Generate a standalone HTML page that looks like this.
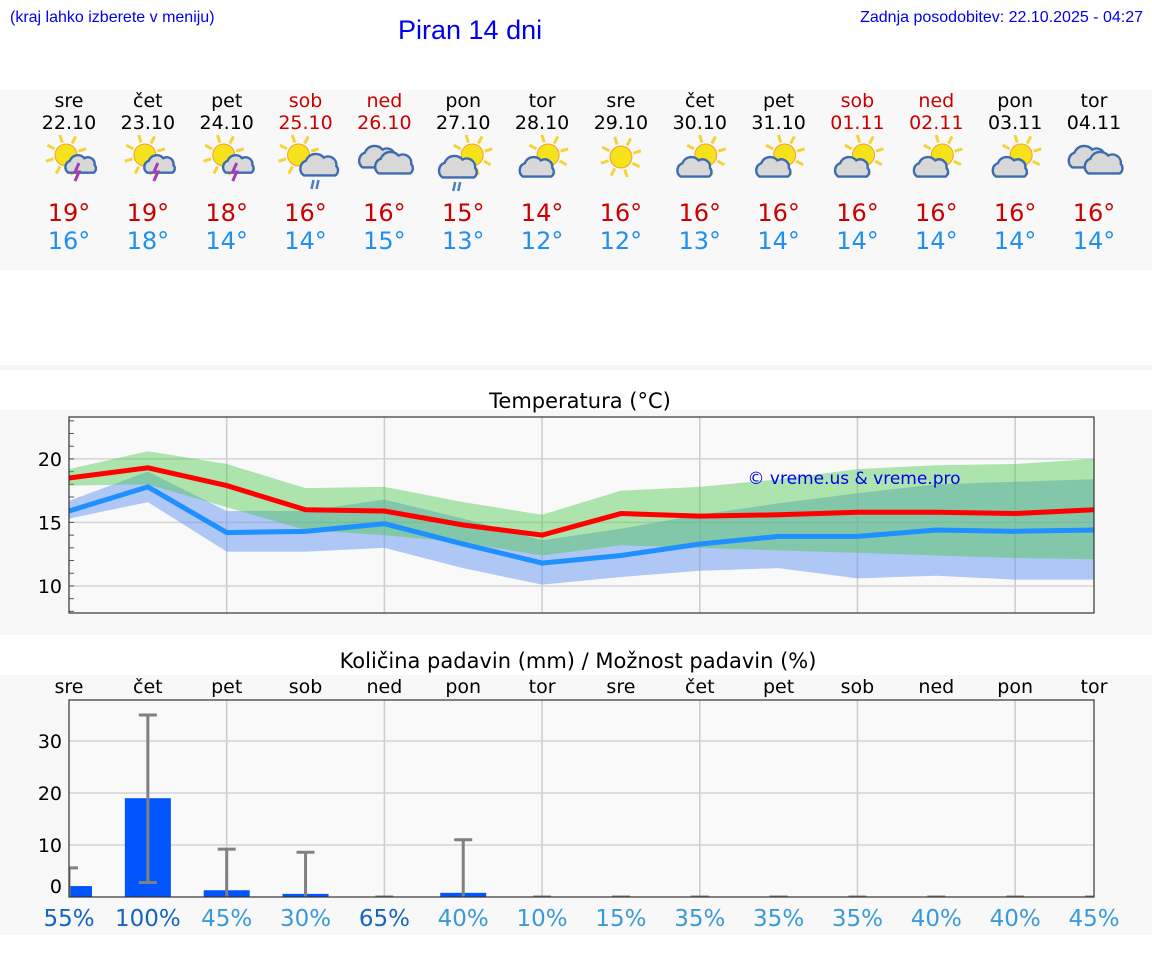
<!DOCTYPE html>
<html><head><meta charset="utf-8">
<style>
html,body{margin:0;padding:0;background:#fff;}
svg{display:block;font-family:"DejaVu Sans","Liberation Sans",sans-serif;}
.hdr{font-family:"Liberation Sans",sans-serif;}
</style></head>
<body>
<svg id="root" width="1152" height="975" viewBox="0 0 1152 975" xmlns="http://www.w3.org/2000/svg">
<text class="hdr" x="10" y="22" font-size="16" fill="#0000ee">(kraj lahko izberete v meniju)</text>
<text class="hdr" x="398" y="39" font-size="27" fill="#0000ee">Piran 14 dni</text>
<text class="hdr" x="1143" y="22" font-size="16" fill="#0000ee" text-anchor="end">Zadnja posodobitev: 22.10.2025 - 04:27</text>
<rect x="0" y="90" width="1152" height="180" fill="#f8f8f8"/>
<rect x="0" y="365" width="1152" height="5" fill="#f6f6f6"/>
<rect x="0" y="410" width="1152" height="225" fill="#f8f8f8"/>
<rect x="0" y="675" width="1152" height="260" fill="#f8f8f8"/>
<g id="days"></g>
<text x="580" y="408" font-size="21" text-anchor="middle" fill="#000">Temperatura (°C)</text>
<g id="temp"></g>
<text x="578" y="668" font-size="21" text-anchor="middle" fill="#000">Količina padavin (mm) / Možnost padavin (%)</text>
<g id="prec"></g>
</svg>
<script>
const dayNames=["sre","čet","pet","sob","ned","pon","tor","sre","čet","pet","sob","ned","pon","tor"];
const dates=["22.10","23.10","24.10","25.10","26.10","27.10","28.10","29.10","30.10","31.10","01.11","02.11","03.11","04.11"];
const weekend=[0,0,0,1,1,0,0,0,0,0,1,1,0,0];
const icons=["sunstorm","sunstorm","sunstorm","sunrain","cloudy","cloudrain","suncloud","sun","suncloud","suncloud","suncloud","suncloud","suncloud","cloudy"];
const maxDisp=[19,19,18,16,16,15,14,16,16,16,16,16,16,16];
const minDisp=[16,18,14,14,15,13,12,12,13,14,14,14,14,14];
const tMax=[18.5,19.3,17.9,16.0,15.9,14.8,14.0,15.7,15.5,15.6,15.8,15.8,15.7,16.0];
const tMin=[15.9,17.8,14.2,14.3,14.9,13.3,11.8,12.4,13.3,13.9,13.9,14.4,14.3,14.4];
const maxHi=[19.2,20.6,19.6,17.7,17.8,16.6,15.6,17.5,17.8,18.4,19.2,19.5,19.6,20.0];
const maxLo=[17.9,18.0,16.2,14.4,14.0,13.4,12.4,13.2,13.0,12.8,12.6,12.4,12.2,12.1];
const minHi=[16.7,19.0,15.9,15.9,16.8,15.3,13.6,14.5,15.6,16.5,17.3,18.0,18.2,18.4];
const minLo=[15.3,16.6,12.7,12.7,13.0,11.4,10.1,10.7,11.2,11.4,10.6,10.8,10.5,10.5];
const tempTicks=[10,15,20];
const precip=[2.1,19.0,1.3,0.6,0,0.8,0,0,0,0,0,0,0,0];
const precHi=[5.6,35,9.2,8.6,0,11,0,0,0,0,0,0,0,0];
const precLo=[0,2.8,0,0,0,0,0,0,0,0,0,0,0,0];
const chance=[55,100,45,30,65,40,10,15,35,35,35,40,40,45];
const precTicks=[0,10,20,30];

const NS="http://www.w3.org/2000/svg";
function mk(tag,attrs,parent,txt){const e=document.createElementNS(NS,tag);for(const k in attrs)e.setAttribute(k,attrs[k]);if(txt!==undefined)e.textContent=txt;parent.appendChild(e);return e;}
const X0=69,X1=1094;
const xs=i=>X0+i*(X1-X0)/13;

const dg=document.getElementById('days');
function sun(g,cx,cy,r){
  for(let a=0;a<8;a++){const t=a*Math.PI/4-0.3;mk('line',{x1:cx+Math.cos(t)*(r+2),y1:cy+Math.sin(t)*(r+2),x2:cx+Math.cos(t)*(r+10),y2:cy+Math.sin(t)*(r+10),stroke:'#f2d43a','stroke-width':3},g);}
  mk('circle',{cx,cy,r,fill:'#f5e21b',stroke:'#f0a030','stroke-width':1},g);
}
function cloud(g,cx,cy,s){
  mk('path',{d:`M${cx-15*s},${cy+9*s} a${8*s} ${8*s} 0 0 1 ${2*s},${-14*s} a${10*s} ${10*s} 0 0 1 ${17*s},${-3*s} a${8*s} ${8*s} 0 0 1 ${12*s},${8*s} a${6*s} ${6*s} 0 0 1 ${-1*s},${9*s} z`,fill:'#d8d8d8',stroke:'#3d6bb0','stroke-width':2.4},g);
}
icons.forEach((ic,i)=>{
  const x=xs(i);
  const c=weekend[i]?'#cc0000':'#000';
  const t1=mk('text',{x,y:107,'font-size':19,'text-anchor':'middle',fill:c},dg,dayNames[i]);
  
  
  const t2=mk('text',{x,y:129,'font-size':19,'text-anchor':'middle',fill:c},dg,dates[i]);
  
  
  const g=mk('g',{},dg);
  
  
  if(ic==='sunstorm'){sun(g,x-3,155,11);cloud(g,x+12,165,0.85);mk('path',{d:`M${x+10},163 l-4,9 h4 l-4,9`,stroke:'#a040b0','stroke-width':3,fill:'none'},g);}
  else if(ic==='sunrain'){sun(g,x-7,155,11);cloud(g,x+14,166,1.05);mk('path',{d:`M${x+8},180 l-2,9 M${x+13},180 l-2,9`,stroke:'#4a7ec0','stroke-width':2.5},g);}
  else if(ic==='cloudy'){cloud(g,x-6,158,1.05);cloud(g,x+10,164,1.05);}
  else if(ic==='cloudrain'){sun(g,x+9,155,11);cloud(g,x-5,168,1.05);mk('path',{d:`M${x-8},182 l-2,9 M${x-3},182 l-2,9`,stroke:'#4a7ec0','stroke-width':2.5},g);}
  else if(ic==='suncloud'){sun(g,x+6,155,11);cloud(g,x-5,168,0.95);}
  else {sun(g,x,157,11);}
  const a=mk('text',{x,y:221,'font-size':24,'text-anchor':'middle',fill:'#cc0000'},dg,maxDisp[i]+'°');
  
  
  const b=mk('text',{x,y:249,'font-size':24,'text-anchor':'middle',fill:'#2090f0'},dg,minDisp[i]+'°');
  
  
});

const tg=document.getElementById('temp');
const TY0=613,TY1=417,TMIN=7.87,TMAX=23.3;
const ty=v=>TY0-(v-TMIN)/(TMAX-TMIN)*(TY0-TY1);
mk('rect',{x:X0,y:TY1,width:X1-X0,height:TY0-TY1,fill:'#f9f9f9'},tg);
for(let i=2;i<14;i+=2)mk('line',{x1:xs(i),x2:xs(i),y1:TY1,y2:TY0,stroke:'#ccc','stroke-width':1.5},tg);
tempTicks.forEach(v=>{mk('line',{x1:X0,x2:X1,y1:ty(v),y2:ty(v),stroke:'#d4d4d4','stroke-width':1.5},tg);
  const l=mk('text',{x:62,y:ty(v)+7,'font-size':19,'text-anchor':'end',fill:'#000'},tg,String(v));
  
  });
for(let v=8;v<=23;v++)mk('line',{x1:X0,x2:X0+5,y1:ty(v),y2:ty(v),stroke:'#555',"stroke-width":1},tg);
function band(hi,lo,fill,name){
  let d='M'+hi.map((v,i)=>xs(i)+','+ty(v)).join(' L');
  d+=' L'+lo.map((v,i)=>xs(i)+','+ty(v)).reverse().join(' L')+' Z';
  const p=mk('path',{d,fill},tg);
  
  
}
band(minHi,minLo,'rgba(100,150,240,0.5)','min-temp-band');
band(maxHi,maxLo,'rgba(80,200,80,0.45)','max-temp-band');
function line(arr,col,name){
  const p=mk('polyline',{points:arr.map((v,i)=>xs(i)+','+ty(v)).join(' '),fill:'none',stroke:col,'stroke-width':5},tg);
  
  
}
line(tMin,'#1e90ff','min-temp-line');
line(tMax,'#ff0000','max-temp-line');
mk('rect',{x:X0,y:TY1,width:X1-X0,height:TY0-TY1,fill:'none',stroke:'#333','stroke-width':1.2},tg);
const wm=mk('text',{x:854,y:484,'font-size':17,'text-anchor':'middle',fill:'#0000ee'},tg,'© vreme.us & vreme.pro');



const pg=document.getElementById('prec');
const PY0=897,PY1=700,PMAX=(897-700)/5.2;
const py=v=>PY0-v/PMAX*(PY0-PY1);
mk('rect',{x:X0,y:PY1,width:X1-X0,height:PY0-PY1,fill:'#f9f9f9'},pg);
for(let i=2;i<14;i+=2)mk('line',{x1:xs(i),x2:xs(i),y1:PY1,y2:PY0,stroke:'#ccc','stroke-width':1.5},pg);
precTicks.forEach(v=>{if(v>0)mk('line',{x1:X0,x2:X1,y1:py(v),y2:py(v),stroke:'#d4d4d4','stroke-width':1.5},pg);
  const l=mk('text',{x:62,y:py(v)+(v===0?-4:7),'font-size':19,'text-anchor':'end',fill:'#000'},pg,String(v));
  
  });
dayNames.forEach((d,i)=>{const t=mk('text',{x:xs(i),y:693,'font-size':19,'text-anchor':'middle',fill:'#000'},pg,d);
  
  });
const clip=mk('clipPath',{id:'pc'},pg);mk('rect',{x:X0,y:PY1-20,width:X1-X0,height:PY0-PY1+20},clip);
const cg=mk('g',{'clip-path':'url(#pc)'},pg);
precip.forEach((v,i)=>{
  const x=xs(i);
  if(v>0){const r=mk('rect',{x:x-23,y:py(v),width:46,height:PY0-py(v),fill:'#0055ff'},cg);
    
    }
  const e=mk('g',{stroke:'#808080','stroke-width':3},cg);
  
  
  mk('line',{x1:x,x2:x,y1:py(precLo[i]),y2:py(precHi[i])},e);
  mk('line',{x1:x-9,x2:x+9,y1:py(precHi[i]),y2:py(precHi[i])},e);
  if(precLo[i]>0)mk('line',{x1:x-9,x2:x+9,y1:py(precLo[i]),y2:py(precLo[i])},e);
  const c=chance[i];
  const t=mk('text',{x,y:926,'font-size':23,'text-anchor':'middle',fill:(c>=55?'#1565c0':'#3a9ad9')},pg,c+'%');
  
  
});
mk('rect',{x:X0,y:PY1,width:X1-X0,height:PY0-PY1,fill:'none',stroke:'#333','stroke-width':1.2},pg);
</script>
</body></html>
